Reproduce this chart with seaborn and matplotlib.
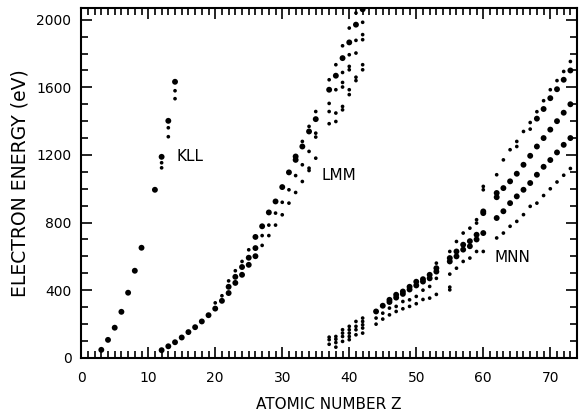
import numpy as np
import pandas as pd
import matplotlib.pyplot as plt
import seaborn as sns
from matplotlib.ticker import MultipleLocator

# KLL series (big = main line, small = satellites)
kll_z_big = [3, 4, 5, 6, 7, 8, 9, 11, 12, 13, 14]
kll_e_big = [47, 106, 178, 272, 385, 515, 651, 994, 1189, 1402, 1633]
kll_z_small = [12, 12, 13, 13, 14, 14]
kll_e_small = [1154, 1124, 1361, 1308, 1580, 1533]

# LMM series
lmm_z_big = [12, 13, 14, 15, 16, 17, 18, 19, 20, 21, 22, 22, 23, 23, 24, 24, 25, 25,
             26, 26, 26, 27, 28, 29, 30, 31, 32, 32, 33, 34, 35, 37, 38, 39, 40, 41, 42]
lmm_e_big = [45, 68, 92, 120, 152, 181, 215, 252, 291, 337, 383, 420, 443, 479, 491, 537, 550, 592,
             601, 649, 715, 778, 860, 925, 1010, 1097, 1171, 1191, 1250, 1339, 1412, 1586, 1669, 1773,
             1866, 1971, 2062]
lmm_z_small = [20, 21, 22, 23, 24, 25, 27, 27, 28, 28, 29, 29, 30, 30, 31, 31, 32, 32,
               33, 33, 33, 34, 34, 34, 34, 35, 35, 35, 35,
               37, 37, 37, 37, 38, 38, 38, 38, 39, 39, 39, 39, 39, 39,
               40, 40, 40, 40, 40, 40, 41, 41, 41, 41, 41, 42, 42, 42, 42, 42]
lmm_e_small = [325, 367, 455, 515, 570, 639, 665, 723, 723, 785, 785, 856, 846, 920, 915, 994, 978, 1078,
               1043, 1142, 1280, 1108, 1122, 1221, 1369, 1181, 1306, 1329, 1457,
               1385, 1457, 1505, 1645, 1398, 1448, 1586, 1734, 1467, 1487, 1602, 1629, 1688, 1846,
               1557, 1586, 1704, 1724, 1793, 1951, 1640, 1660, 1803, 1878, 2040, 1704, 1734, 1882, 1912, 1985]

# MNN series
mnn_z_big = [44, 45, 46, 46, 47, 47, 48, 48, 49, 49, 50, 50, 51, 51, 52, 52, 53, 53,
             55, 55, 56, 56, 57, 57, 58, 58, 59, 59, 60, 60, 60, 62, 62, 62, 63, 63, 64, 64,
             65, 65, 66, 66, 67, 67, 68, 68, 68, 69, 69, 69, 70, 70, 70, 71, 71, 71,
             72, 72, 72, 73, 73, 73]
mnn_e_big = [274, 308, 330, 343, 356, 373, 378, 392, 404, 420, 428, 450, 451, 465, 470, 491, 510, 530,
             570, 590, 600, 629, 640, 669, 660, 690, 700, 728, 738, 856, 866, 827, 950, 975, 867, 1004,
             915, 1044, 955, 1089, 994, 1142, 1034, 1195, 1083, 1250, 1415, 1130, 1300, 1472,
             1170, 1350, 1536, 1215, 1400, 1589, 1260, 1450, 1645, 1300, 1500, 1700]
mnn_z_small = [37, 37, 37, 38, 38, 38, 38, 39, 39, 39, 39, 40, 40, 40, 40, 40, 41, 41, 41, 41,
               42, 42, 42, 42, 42, 44, 44, 45, 45, 46, 46, 47, 47, 48, 48, 49, 49, 50, 50, 51, 51,
               52, 52, 53, 53, 53, 55, 55, 55, 55, 56, 56, 57, 57, 58, 58, 59, 59, 59, 60, 60, 60,
               62, 62, 63, 63, 64, 64, 65, 65, 65, 66, 66, 67, 67, 67, 68, 68,
               69, 69, 70, 70, 71, 71, 72, 72, 73, 73]
mnn_e_small = [80, 107, 122, 63, 90, 110, 126, 97, 126, 146, 166, 107, 126, 146, 166, 186, 136, 166, 186, 215,
               146, 176, 195, 215, 235, 199, 235, 229, 264, 254, 294, 274, 304, 290, 333, 304, 343, 320, 363, 345, 400,
               353, 422, 375, 470, 560, 402, 418, 495, 629, 530, 688, 570, 738, 590, 767, 629, 797, 817, 629, 994, 1014,
               709, 1083, 738, 1171, 778, 1231, 807, 1250, 1280, 847, 1339, 896, 1353, 1392, 915, 1456,
               960, 1521, 1000, 1586, 1040, 1640, 1080, 1694, 1120, 1753]

frames = []
for zb, eb, zs, es in [(kll_z_big, kll_e_big, kll_z_small, kll_e_small),
                       (lmm_z_big, lmm_e_big, lmm_z_small, lmm_e_small),
                       (mnn_z_big, mnn_e_big, mnn_z_small, mnn_e_small)]:
    frames.append(pd.DataFrame({'Z': zb, 'E': eb, 'dot': 'big'}))
    frames.append(pd.DataFrame({'Z': zs, 'E': es, 'dot': 'small'}))
df = pd.concat(frames, ignore_index=True)

sns.set_theme(style="ticks")
plt.rcParams['font.family'] = ['DejaVu Sans']
plt.rcParams['text.color'] = 'black'
plt.rcParams['axes.labelcolor'] = 'black'

fig, ax = plt.subplots(figsize=(5.8, 4.17), dpi=100)
fig.subplots_adjust(left=0.14, right=0.995, bottom=0.142, top=0.981)

sns.scatterplot(data=df, x='Z', y='E', size='dot', sizes={'big': 18, 'small': 7},
                color='black', edgecolor='none', linewidth=0, legend=False, ax=ax)

ax.set_xlim(0, 74)
ax.set_ylim(0, 2070)
ax.xaxis.set_major_locator(MultipleLocator(10))
ax.xaxis.set_minor_locator(MultipleLocator(1))
ax.yaxis.set_major_locator(MultipleLocator(400))
ax.yaxis.set_minor_locator(MultipleLocator(100))
ax.tick_params(which='both', direction='in', top=True, right=True, width=1.2, colors='black',
               labelsize=10)
ax.tick_params(which='major', length=8)
ax.tick_params(which='minor', length=5)
ax.tick_params(axis='x', which='major', pad=9.5)
ax.tick_params(axis='y', which='major', pad=7)
for sp in ax.spines.values():
    sp.set_linewidth(1.5)
    sp.set_color('black')

ax.set_xlabel('ATOMIC NUMBER Z', fontsize=11, labelpad=9, color='black')
ax.set_ylabel('ELECTRON ENERGY (eV)', fontsize=13.5, labelpad=5, color='black')

ax.text(14.2, 1190, 'KLL', fontsize=11, va='center', color='black')
ax.text(35.8, 1077, 'LMM', fontsize=11, va='center', color='black')
ax.text(61.6, 592, 'MNN', fontsize=11, va='center', color='black')

plt.savefig('out.png', dpi=100)
